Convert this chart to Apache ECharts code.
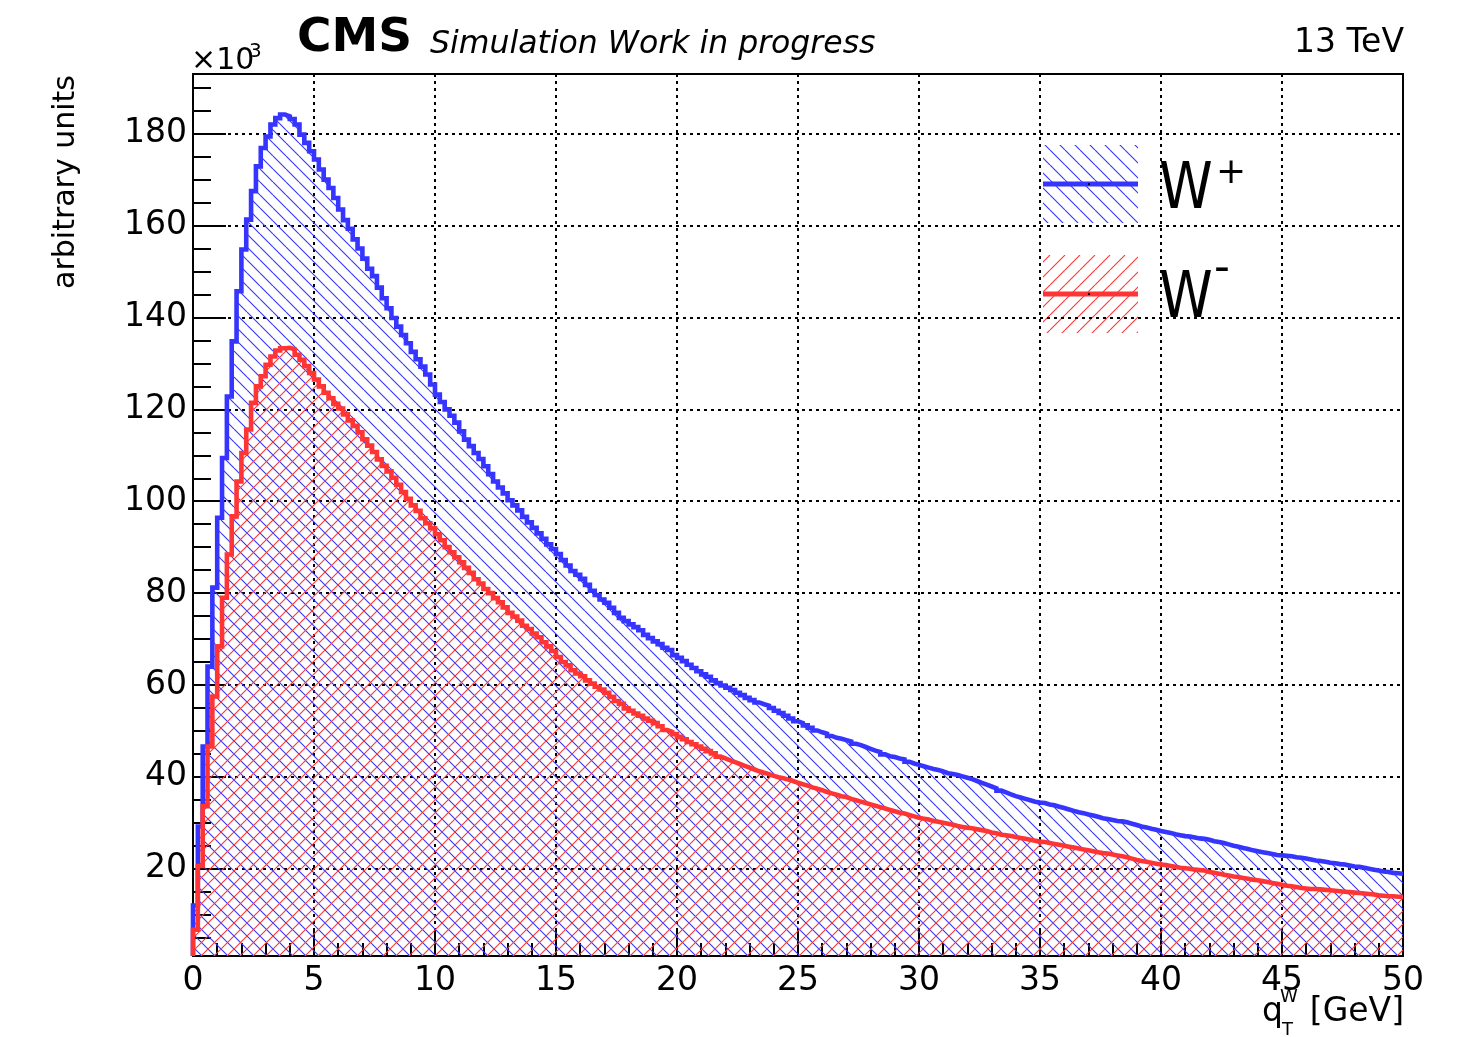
<!DOCTYPE html>
<html><head><meta charset="utf-8">
<script src="https://cdn.jsdelivr.net/npm/echarts@6/dist/echarts.min.js"></script>
<style>html,body{margin:0;padding:0;background:#fff}#c{width:1465px;height:1037px}</style>
</head><body><div id="c"></div>
<script>
// ---- data (values in units of 10^3) ----
const binWidth = 0.2;      // GeV
const xTicks = [0,5,10,15,20,25,30,35,40,45,50];
const yTickValues = [20,40,60,80,100,120,140,160,180];
const yMinorValues = [5,10,15,25,30,35,45,50,55,65,70,75,85,90,95,105,110,115,125,130,135,145,150,155,165,170,175,185,190];
const yRange = [1,193];

const wPlus = [
12.0,29.2,46.6,64.0,81.2,96.4,109.4,122.8,134.8,145.7,154.8,161.3,167.5,172.9,176.9,179.4,182.0,183.4,184.2,183.8,
183.2,182.0,179.8,178.0,176.2,174.4,172.2,170.0,168.2,166.0,163.5,161.2,159.3,157.0,155.0,152.8,150.6,149.0,146.5,144.2,
142.0,139.9,138.0,136.2,134.4,132.5,130.9,129.3,127.6,125.4,123.2,121.6,120.0,118.6,117.1,115.2,113.4,112.0,110.5,109.2,
107.6,105.9,104.3,103.0,101.7,100.2,99.1,98.0,96.6,95.4,94.2,93.0,91.8,90.6,89.6,88.5,87.2,86.0,84.8,84.0,
83.1,81.8,80.5,79.6,78.6,77.9,76.8,75.7,74.6,73.9,73.2,72.6,71.9,70.9,70.2,69.5,68.9,68.1,67.6,66.5,
65.9,65.2,64.4,63.7,63.0,62.3,61.8,61.0,60.4,59.9,59.4,58.9,58.3,57.8,57.2,56.7,56.2,55.8,55.5,55.0,
54.4,53.9,53.3,52.7,52.1,51.7,51.2,50.7,50.1,49.7,49.4,48.9,48.5,48.3,48.0,47.7,47.2,46.9,46.5,46.1,
45.7,45.4,44.9,44.5,44.3,44.0,43.8,43.3,42.9,42.6,42.3,42.0,41.7,41.5,41.2,40.8,40.6,40.4,40.1,39.8,
39.5,39.1,38.7,38.3,37.9,37.5,37.0,36.6,36.2,35.8,35.5,35.2,34.9,34.6,34.4,34.3,34.0,33.8,33.5,33.2,
32.9,32.6,32.3,32.1,31.8,31.6,31.3,31.0,30.8,30.6,30.4,30.3,30.1,29.8,29.5,29.2,29.0,28.7,28.5,28.2,
28.0,27.8,27.5,27.3,27.1,27.0,26.8,26.6,26.5,26.3,26.0,25.8,25.6,25.3,25.0,24.8,24.5,24.3,24.0,23.8,
23.6,23.4,23.2,23.0,22.9,22.8,22.7,22.5,22.4,22.2,22.0,21.8,21.7,21.5,21.3,21.2,21.0,20.9,20.7,20.5,
20.4,20.2,20.0,19.8,19.6,19.4,19.3,19.1,19.0,18.9
];
const wMinus = [
6.7,20.6,33.6,46.6,57.5,68.4,79.0,88.4,96.7,104.3,110.5,115.6,121.4,125.0,127.2,129.7,131.5,132.8,133.3,133.4,
133.1,131.9,130.8,129.4,127.9,126.5,125.0,123.6,122.4,121.2,120.2,118.9,117.6,116.4,115.0,113.5,112.1,110.7,109.1,107.7,
106.5,105.1,103.6,102.0,100.5,99.1,97.9,96.3,95.2,94.1,92.8,91.5,90.0,88.9,87.8,86.7,85.5,84.4,83.0,82.1,
80.9,80.0,78.9,78.0,76.9,75.7,74.9,74.0,72.9,72.2,71.2,70.4,69.3,68.4,67.4,66.1,65.0,64.3,63.2,62.5,
61.9,61.0,60.3,59.6,59.0,58.3,57.4,56.5,55.9,54.9,54.4,53.8,53.3,52.7,52.2,51.7,51.0,50.2,49.8,49.3,
48.7,48.2,47.6,47.1,46.6,46.1,45.6,45.1,44.4,44.0,43.6,43.2,42.8,42.4,42.0,41.6,41.2,40.9,40.6,40.2,
39.9,39.7,39.4,39.1,38.7,38.4,38.1,37.7,37.4,37.1,36.7,36.4,36.1,35.8,35.6,35.2,34.9,34.6,34.3,34.0,
33.7,33.4,33.1,32.8,32.5,32.2,32.0,31.7,31.4,31.1,30.9,30.7,30.4,30.2,30.0,29.8,29.6,29.3,29.1,28.9,
28.8,28.6,28.4,28.2,27.9,27.7,27.4,27.3,27.1,26.9,26.7,26.5,26.3,26.1,25.9,25.8,25.6,25.4,25.2,25.0,
24.8,24.6,24.4,24.2,24.0,23.8,23.6,23.4,23.3,23.1,22.9,22.7,22.5,22.2,21.9,21.7,21.5,21.3,21.1,20.9,
20.8,20.6,20.4,20.2,20.1,20.0,19.8,19.7,19.6,19.3,19.1,18.9,18.7,18.5,18.3,18.2,18.0,17.8,17.6,17.5,
17.3,17.1,16.9,16.7,16.5,16.3,16.2,16.0,15.8,15.7,15.6,15.6,15.5,15.4,15.3,15.2,15.1,15.0,14.9,14.8,
14.7,14.6,14.5,14.4,14.2,14.1,14.0,14.0,13.9,13.9
];

// ---- styling ----
const BLUE = '#3535ff', RED = '#ff3535';
const FONT = 'DejaVu Sans';

function hatch(color, s, dir) {
  const c = document.createElement('canvas');
  c.width = s; c.height = s;
  const g = c.getContext('2d');
  g.strokeStyle = color; g.lineWidth = 1.1;
  g.beginPath();
  for (const x0 of [-s, 0, s]) {
    if (dir > 0) { g.moveTo(x0, 0); g.lineTo(x0 + s, s); }
    else { g.moveTo(x0, s); g.lineTo(x0 + s, 0); }
  }
  g.stroke();
  return c;
}
const hatchBlue = hatch(BLUE, 13, 1), hatchRed = hatch(RED, 13, -1);
const hatchBlueL = hatch(BLUE, 15, 1), hatchRedL = hatch(RED, 15, -1);

function steps(vals) {
  const pts = [[0, yRange[0]]];
  vals.forEach((v, i) => {
    pts.push([+(i * binWidth).toFixed(4), v]);
    pts.push([+((i + 1) * binWidth).toFixed(4), v]);
  });
  return pts;
}

const chart = echarts.init(document.getElementById('c'), null, {renderer: 'canvas'});
const txt = (o) => Object.assign({fill: '#000', fontFamily: FONT}, o);

chart.setOption({
  animation: false,
  backgroundColor: '#fff',
  grid: {left: 193, right: 62, top: 74, bottom: 81, show: true, borderColor: '#000', borderWidth: 2,
         containLabel: false, outerBoundsMode: 'none'},
  xAxis: {
    type: 'value', min: xTicks[0], max: xTicks[xTicks.length - 1], interval: 5,
    axisLine: {show: true, onZero: false, lineStyle: {color: '#000', width: 2}},
    axisTick: {show: true, inside: true, length: 26, lineStyle: {color: '#000', width: 2}},
    minorTick: {show: true, splitNumber: 5, length: 13, lineStyle: {color: '#000', width: 2}},
    axisLabel: {color: '#000', fontSize: 33, fontFamily: FONT, margin: 9, showMinLabel: true, showMaxLabel: true},
    splitLine: {show: true, lineStyle: {color: '#000', type: [3, 4], width: 2}},
    minorSplitLine: {show: false}
  },
  yAxis: [{
    type: 'value', min: yRange[0], max: yRange[1],
    axisLine: {show: true, lineStyle: {color: '#000', width: 2}},
    axisTick: {show: true, inside: true, length: 33, lineStyle: {color: '#000', width: 2}, customValues: yTickValues},
    axisLabel: {color: '#000', fontSize: 33, fontFamily: FONT, margin: 6, customValues: yTickValues},
    splitLine: {show: true, lineStyle: {color: '#000', type: [3, 4], width: 2}}
  }, {
    type: 'value', min: yRange[0], max: yRange[1], position: 'left',
    axisLine: {show: false},
    axisTick: {show: true, inside: true, length: 18, lineStyle: {color: '#000', width: 2}, customValues: yMinorValues},
    axisLabel: {show: false},
    splitLine: {show: false}
  }],
  series: [{
    name: 'W+', type: 'line', data: steps(wPlus), yAxisIndex: 0,
    showSymbol: false, symbol: 'none', clip: true, z: 2,
    lineStyle: {color: BLUE, width: 4.6, join: 'miter'},
    areaStyle: {color: {image: hatchBlue, repeat: 'repeat'}, opacity: 1, origin: 'start'}
  }, {
    name: 'W-', type: 'line', data: steps(wMinus), yAxisIndex: 0,
    showSymbol: false, symbol: 'none', clip: true, z: 3,
    lineStyle: {color: RED, width: 4.6, join: 'miter'},
    areaStyle: {color: {image: hatchRed, repeat: 'repeat'}, opacity: 1, origin: 'start'}
  }],
  graphic: [
    {type: 'text', x: 297, y: 62, style: txt({text: 'CMS', fontSize: 47, fontWeight: 'bold', verticalAlign: 'bottom'})},
    {type: 'text', x: 430, y: 61, style: txt({text: 'Simulation Work in progress', fontSize: 31.5, fontStyle: 'italic', verticalAlign: 'bottom'})},
    {type: 'text', x: 1404, y: 60, style: txt({text: '13 TeV', fontSize: 33, align: 'right', verticalAlign: 'bottom'})},
    {type: 'text', x: 191, y: 76, style: txt({text: '×10', fontSize: 30, verticalAlign: 'bottom'})},
    {type: 'text', x: 249, y: 62, style: txt({text: '3', fontSize: 20, verticalAlign: 'bottom'})},
    {type: 'text', x: 66, y: 75, rotation: Math.PI / 2, style: txt({text: 'arbitrary units', fontSize: 30, align: 'right', verticalAlign: 'middle'})},
    // x-axis title
    {type: 'text', x: 1262, y: 1029, style: txt({text: 'q', fontSize: 33, verticalAlign: 'bottom'})},
    {type: 'text', x: 1280, y: 1006, style: txt({text: 'W', fontSize: 18, verticalAlign: 'bottom'})},
    {type: 'text', x: 1282, y: 1039, style: txt({text: 'T', fontSize: 18, verticalAlign: 'bottom'})},
    {type: 'text', x: 1404, y: 1029, style: txt({text: '[GeV]', fontSize: 33, align: 'right', verticalAlign: 'bottom'})},
    // legend
    {type: 'rect', shape: {x: 1043, y: 145, width: 95, height: 78}, style: {fill: {image: hatchBlueL, repeat: 'repeat'}}},
    {type: 'line', shape: {x1: 1043, y1: 184, x2: 1138, y2: 184}, style: {stroke: BLUE, lineWidth: 5}},
    {type: 'rect', shape: {x: 1088, y: 183, width: 2, height: 2}, style: {fill: '#000'}},
    {type: 'text', x: 1159, y: 223, scaleX: 0.85, style: txt({text: 'W', fontSize: 64, verticalAlign: 'bottom'})},
    {type: 'text', x: 1216, y: 192, style: txt({text: '+', fontSize: 36, verticalAlign: 'bottom'})},
    {type: 'rect', shape: {x: 1043, y: 255, width: 95, height: 78}, style: {fill: {image: hatchRedL, repeat: 'repeat'}}},
    {type: 'line', shape: {x1: 1043, y1: 294, x2: 1138, y2: 294}, style: {stroke: RED, lineWidth: 5}},
    {type: 'rect', shape: {x: 1088, y: 293, width: 2, height: 2}, style: {fill: '#000'}},
    {type: 'text', x: 1159, y: 332, scaleX: 0.85, style: txt({text: 'W', fontSize: 64, verticalAlign: 'bottom'})},
    {type: 'text', x: 1214, y: 292, style: txt({text: '-', fontSize: 44, verticalAlign: 'bottom'})}
  ]
});
</script></body></html>
